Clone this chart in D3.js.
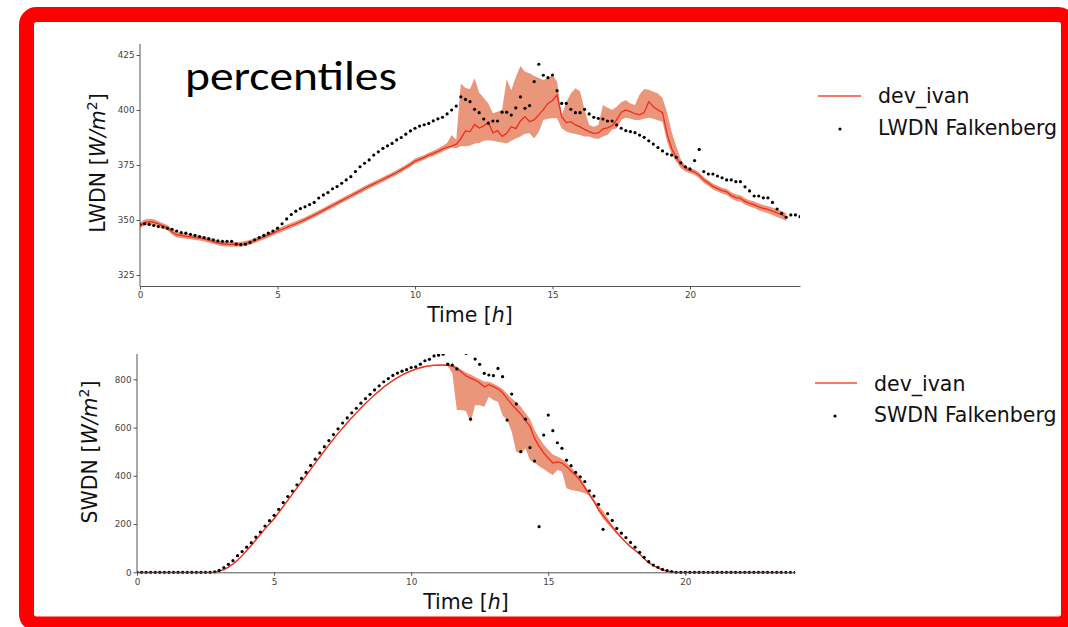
<!DOCTYPE html>
<html><head><meta charset="utf-8">
<script src="https://cdn.jsdelivr.net/npm/d3@7"></script>
<style>body{margin:0;background:#fff;} svg{display:block;}</style>
</head><body>
<svg id="c" width="1068" height="627"></svg>
<script>
// ---------- data (10-minute samples, hours) ----------
const STEP_H = 1/6;
const xTicks = [0,5,10,15,20];
const lwTicks = [325,350,375,400,425];
const swTicks = [0,200,400,600,800];
const legendModel = "dev_ivan";
const legendLW = "LWDN Falkenberg";
const legendSW = "SWDN Falkenberg";

const lwObs = [348,348.3,348,347.5,347,346.8,346.2,345.8,345,344.3,344,343.5,343,342.5,342,341.5,341,340.5,340.3,340.3,
340.3,339,338.8,339,339.8,341,342,343,344,345,346.3,348.3,350.5,352.5,354,355.2,356,357,358,360,
361.4,362.5,364.2,365.2,366.7,368.2,369.7,372,374.2,375.8,377.3,379.5,381,382.6,383.7,384.8,386.4,387.5,389,390.5,
391.7,392.7,393.3,393.9,395.1,396,396.7,398.2,400,401.8,406,404.8,403.8,400.3,398.8,395.9,394,395,395,399,
399,397.7,401,406,400.8,402,412.9,420.8,415.8,414.7,415.9,408.8,403,403,400.3,398.8,398.8,400.3,398.2,396.7,
396.2,395.9,395,395,393.2,391.7,390.6,390.2,389.7,388.6,387.6,386,384.5,382.9,381.4,380,379.5,378.5,376,374.2,
373.2,377,382.1,372,370.9,370.9,370,369.2,368.2,368.2,367.4,367.4,365.1,363.2,360.9,360.9,360.1,360.1,358,355,
353,351.2,352.3,352.3,351.5];

const lwMed = [347.5,348.8,349.3,349,348.2,347.3,346.5,344.5,343.3,343,342.6,342.3,342,341.8,341.3,340.8,340.2,339.6,339.2,339,
338.9,338.9,339,339.3,339.9,340.6,341.4,342.2,343.1,344,345,345.8,346.7,347.5,348.3,349.2,350.2,351.2,352.2,353.3,
354.4,355.5,356.6,357.7,358.8,359.9,361,362.1,363.2,364.3,365.4,366.4,367.4,368.4,369.5,370.5,371.6,372.8,374,375.3,
376.8,377.6,378.5,379.5,380.3,381.2,382.2,383,383.6,384.5,387,390.5,390.2,393.4,391.8,392.8,394.3,389.6,390.6,388,
389.4,392.4,391.5,395,397,394.7,395.5,397.8,400.2,403,404.3,406.8,397,394.3,394.7,393.2,392.3,391.2,390.2,389.4,
389.6,391.4,391.9,392.8,395.5,399,400,399.3,398.3,397.8,398.8,403.8,401.5,400,398.8,389,382.5,378.3,375.6,373.4,
372.6,371.8,370.3,368.2,366.8,365.3,364.3,363.4,362.8,361.2,360.2,359.8,358.5,357.6,357,356,355.3,354.8,354,353.2,
352.4,351.3];

const lwHi = [348.8,350.2,350.6,350.3,349.4,348.5,347.7,345.8,344.5,344.2,343.7,343.4,343.1,342.9,342.4,341.9,341.3,340.7,340.3,340.1,
340,340,340.1,340.4,341,341.7,342.5,343.3,344.2,345.1,346.1,346.9,347.8,348.6,349.4,350.3,351.3,352.3,353.3,354.4,
355.5,356.6,357.7,358.8,359.9,361,362.1,363.2,364.3,365.4,366.5,367.5,368.5,369.5,370.6,371.6,372.7,373.9,375.1,376.4,
377.9,378.7,379.6,380.6,381.5,382.5,383.6,385,388.6,386.5,412,410,409.5,414.4,408,405.5,403,398.5,399.2,400,
414,409,415,420,417.4,416.7,415.5,414.5,413.6,414.5,415.9,413,397.5,403.5,407.5,409.9,408.5,400,393.2,392.4,
393.2,402.3,401,400,401.5,403.5,404.5,403,402.3,407,409.5,409.2,408.3,407.5,405.5,399,390,383.5,377.5,374.5,
373.5,373,371.6,369.6,368.1,366.6,365.6,364.7,364.1,362.6,361.6,361.2,359.9,359,358.4,357.5,356.8,356.4,355.6,354.9,
354.1,353.1];

const lwLo = [346.3,347.5,348,347.7,347,346.1,345.3,343.3,342.1,341.8,341.5,341.2,340.9,340.7,340.2,339.7,339.1,338.5,338.1,337.9,
337.8,337.8,337.9,338.2,338.8,339.5,340.3,341.1,342,342.9,343.9,344.7,345.6,346.4,347.2,348.1,349.1,350.1,351.1,352.2,
353.3,354.4,355.5,356.6,357.7,358.8,359.9,361,362.1,363.2,364.3,365.3,366.3,367.3,368.4,369.4,370.5,371.7,372.9,374.2,
375.7,376.5,377.4,378.4,379.1,380,381,382,383,382.6,383.5,383.5,383.8,384.8,385,386,386.3,386,385.6,385.2,
384.8,386,387.1,388,389.2,389.4,387.1,390,395.5,396,396.2,396.2,391.7,390.2,389.5,389.1,388.6,388,387.9,387.2,
386.8,388,388.6,391,391.7,395.5,396.5,396,395.5,395.5,396,396.5,396,395.3,394.7,385.6,380,376.5,373.5,372,
371.2,370.5,369,366.9,365.4,363.9,362.9,362,361.4,359.8,358.8,358.3,357,356.1,355.4,354.4,353.7,353.1,352.3,351.4,
350.6,349.5];

const swObs = [0,0,0,0,0,0,0,0,0,0,0,0,0,0,0,0,0,2,8,20,
33,48,69,86,104,123,146,167,192,214,236,261,289,314,337,363,389,414,443,469,
495,521,546,571,595,619,640,661,680,701,720,738,756,773,790,803,816,826,834,840,
849,852,863,877,883,897,900,904,863,859,843,912,908,635,884,862,825,818,815,845,
811,631,739,698,500,635,517,461,189,569,652,587,537,514,465,442,414,396,376,338,
316,282,178,243,215,182,162,144,124,104,83,62,44,30,21,12,7,3,0,0,
0,0,0,0,0,0,0,0,0,0,0,0,0,0,0,0,0,0,0,0,
0,0,0,0,0];

const swMed = [0,0,0,0,0,0,0,0,0,0,0,0,0,0,0,0,0,1,5,11,
21,34,50,69,90,111,134,157,180,201,222,247,273,298,324,350,376,401,427,453,
478,503,528,552,576,598,620,641,661,681,700,718,736,752,768,782,795,807,818,827,
835,842,848,853,856,858,859,859,858,856,845,830,815,805,797,785,768,778,770,760,
745,720,696,676,656,630,605,556,522,495,473,453,458,453,438,420,402,380,351,322,
293,260,235,212,188,165,143,124,106,91,76,56,40,28,18,10,5,2,0,0,
0,0,0,0,0,0,0,0,0,0,0,0,0,0,0,0,0,0,0,0,
0,0];

const swHi = [0,0,0,0,0,0,0,0,0,0,0,0,0,0,0,0,0,2,7,14,
24,37,53,72,93,114,137,160,183,204,225,250,276,301,327,353,379,404,430,456,
481,506,531,555,579,601,623,644,664,684,703,721,739,755,771,785,798,810,821,830,
838,845,851,856,859,861,862,862,862,860,852,840,828,820,810,800,790,790,782,772,
760,740,722,705,686,660,636,590,558,530,508,488,480,470,455,436,416,393,362,332,
303,278,255,225,196,170,147,128,110,94,79,59,43,30,20,12,6,3,0,0,
0,0,0,0,0,0,0,0,0,0,0,0,0,0,0,0,0,0,0,0,
0,0];

const swLo = [0,0,0,0,0,0,0,0,0,0,0,0,0,0,0,0,0,0,3,8,
18,31,47,66,87,108,131,154,177,198,219,244,270,295,321,347,373,398,424,450,
475,500,525,549,573,595,617,638,658,678,697,715,733,749,765,779,792,804,815,824,
832,839,845,850,853,855,856,856,855,825,673,673,668,622,693,693,686,728,714,707,
650,631,583,500,493,514,465,455,440,428,415,403,424,418,348,341,338,334,328,318,
288,252,222,200,180,158,139,120,102,88,73,53,37,26,16,8,4,1,0,0,
0,0,0,0,0,0,0,0,0,0,0,0,0,0,0,0,0,0,0,0,
0,0];

// ---------- drawing ----------
const svg = d3.select("#c");
const RED = "#f42a1c", BAND = "#e9967a";

// frame
svg.append("rect").attr("x",26.5).attr("y",14.5).attr("width",1042).attr("height",609.5)
  .attr("rx",10).attr("fill","#fff").attr("stroke","#ff0000").attr("stroke-width",15);

svg.append("text").attr("x",185).attr("y",90)
  .attr("font-family","Carlito, Lato, 'Open Sans', sans-serif").attr("font-size",42)
  .attr("textLength",212).attr("lengthAdjust","spacingAndGlyphs")
  .attr("fill","#000").text("percentiles");

function panel(cfg){
  const x = d3.scaleLinear().domain([0,24]).range(cfg.xr);
  const y = d3.scaleLinear().domain(cfg.yd).range(cfg.yr);
  const g = svg.append("g");
  const cid = "clip"+cfg.id;
  svg.append("clipPath").attr("id",cid).append("rect")
    .attr("x",cfg.xr[0]).attr("y",cfg.yr[1]).attr("width",cfg.xr[1]-cfg.xr[0])
    .attr("height",cfg.yr[0]-cfg.yr[1]+3);
  const pg = g.append("g").attr("clip-path",`url(#${cid})`);
  const idx = d3.range(cfg.med.length);
  pg.append("path").datum(idx)
    .attr("d", d3.area().x(i=>x(i*STEP_H)).y0(i=>y(cfg.lo[i])).y1(i=>y(cfg.hi[i])))
    .attr("fill",BAND).attr("stroke","none");
  pg.append("path").datum(idx)
    .attr("d", d3.line().x(i=>x(i*STEP_H)).y(i=>y(cfg.med[i])))
    .attr("fill","none").attr("stroke",RED).attr("stroke-width",1.3);
  pg.append("g").selectAll("circle").data(cfg.obs).join("circle")
    .attr("cx",(d,i)=>x(i*STEP_H)).attr("cy",d=>y(d)).attr("r",1.6).attr("fill","#000");

  const ax = g.append("g").attr("transform",`translate(0,${cfg.yr[0]})`)
    .call(d3.axisBottom(x).tickValues(xTicks).tickSize(3.5).tickPadding(2.5).tickSizeOuter(0));
  const ay = g.append("g").attr("transform",`translate(${cfg.xr[0]},0)`)
    .call(d3.axisLeft(y).tickValues(cfg.ticks).tickSize(3.5).tickPadding(2).tickSizeOuter(0));
  [ax,ay].forEach(a=>{
    a.select(".domain").attr("stroke","#555").attr("stroke-width",1);
    a.selectAll(".tick line").attr("stroke","#555");
    a.selectAll("text").attr("font-family","'DejaVu Sans', sans-serif").attr("font-size",8.8).attr("fill","#444");
  });
  ay.select(".domain").attr("d",`M0,${cfg.yr[0]}V${cfg.yr[1]}`);

  // x label
  const xl = g.append("text").attr("x",(cfg.xr[0]+cfg.xr[1])/2).attr("y",cfg.xlabY)
    .attr("text-anchor","middle").attr("font-family","'DejaVu Sans', sans-serif")
    .attr("font-size",20.5).attr("fill","#111");
  xl.append("tspan").text("Time [");
  xl.append("tspan").attr("font-style","italic").text("h");
  xl.append("tspan").text("]");
  // y label
  const yl = g.append("text").attr("transform",`translate(${cfg.ylab[0]},${cfg.ylab[1]}) rotate(-90)`)
    .attr("text-anchor","middle").attr("font-family","'DejaVu Sans', sans-serif")
    .attr("font-size",20.5).attr("fill","#111");
  yl.append("tspan").text(cfg.name+" [");
  yl.append("tspan").attr("font-style","italic").text("W/m");
  yl.append("tspan").attr("font-size",14).attr("dy",-8).text("2");
  yl.append("tspan").attr("dy",8).text("]");

  // legend
  const L = cfg.leg;
  g.append("line").attr("x1",L.x1).attr("x2",L.x2).attr("y1",L.ly).attr("y2",L.ly)
    .attr("stroke",RED).attr("stroke-width",1.3).attr("opacity",0.85);
  g.append("circle").attr("cx",L.dx).attr("cy",L.dy).attr("r",1.6).attr("fill","#000");
  const lt = g.append("g").attr("font-family","'DejaVu Sans', sans-serif").attr("font-size",20.5).attr("fill","#111");
  lt.append("text").attr("x",L.tx).attr("y",L.t1).text(legendModel);
  lt.append("text").attr("x",L.tx).attr("y",L.t2).text(cfg.legObs);
}

panel({id:"lw", xr:[140,800], yd:[320,430], yr:[286,44], ticks:lwTicks,
  obs:lwObs, med:lwMed, lo:lwLo, hi:lwHi, name:"LWDN", xlabY:322, ylab:[105,163],
  legObs:legendLW, leg:{x1:818,x2:861,ly:96,dx:840,dy:129,tx:878,t1:103,t2:135}});
panel({id:"sw", xr:[137,795], yd:[0,905], yr:[572.3,354], ticks:swTicks,
  obs:swObs, med:swMed, lo:swLo, hi:swHi, name:"SWDN", xlabY:609, ylab:[97,452],
  legObs:legendSW, leg:{x1:815,x2:857,ly:383,dx:835,dy:416,tx:874,t1:390.5,t2:422}});
</script>
</body></html>
